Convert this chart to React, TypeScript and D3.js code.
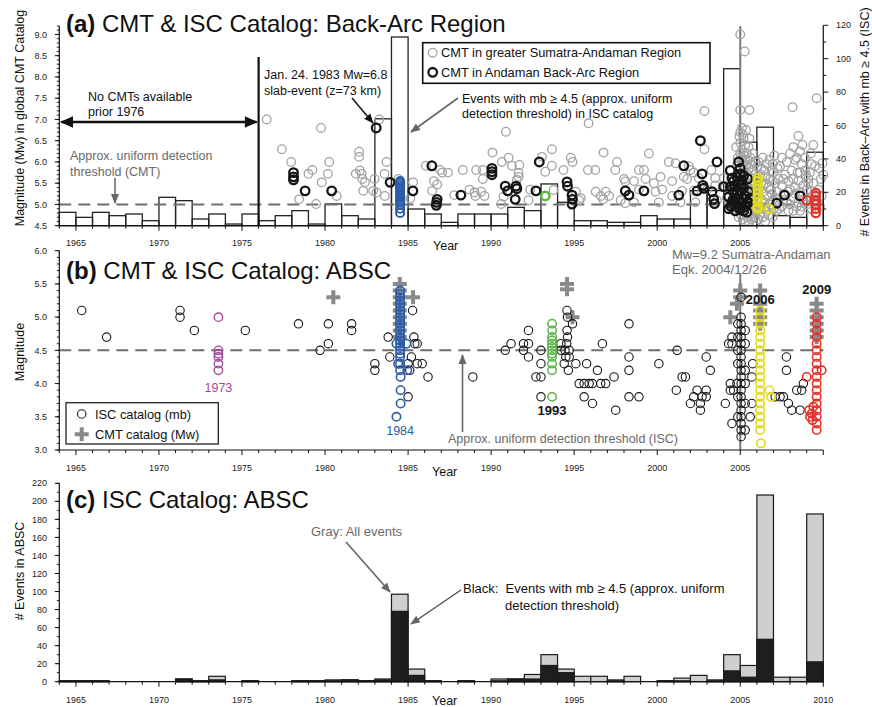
import React from 'react';
import * as d3 from 'd3';

// ---------- data ----------
// yearly bins, 1964 .. 2009
const BIN_YEARS = d3.range(1964, 2010);

// (a) ISC events with mb >= 4.5 in the back-arc, per year (right axis)
const backArcCounts = [8, 5, 8, 6, 7, 3, 17, 15, 4, 7, 1, 7, 3, 6, 9, 1, 13, 6, 4, 64, 113, 10, 7, 2, 7, 7, 7, 11, 9, 25, 14, 3, 3, 2, 2, 6, 4, 4, 21, 21, 94, 50, 59, 6, 5, 44];

// (c) ISC events in ABSC: all events and events with mb >= 4.5
const absAllCounts = [1, 1, 1, 0, 0, 0, 0, 3, 1, 6, 0, 1, 0, 0, 1, 1, 2, 2, 1, 3, 97, 14, 1, 0, 1, 0, 3, 3, 8, 30, 14, 6, 6, 2, 6, 0, 1, 4, 7, 2, 30, 18, 207, 5, 5, 186];
const absMb45Counts = [1, 1, 1, 0, 0, 0, 0, 3, 1, 2, 0, 1, 0, 0, 1, 1, 1, 2, 1, 2, 78, 7, 1, 0, 1, 0, 1, 3, 3, 18, 10, 0, 0, 1, 0, 0, 1, 1, 0, 1, 12, 5, 47, 0, 0, 22];

type Pt = [number, number];
const col = (year: number, mags: number[]): Pt[] => mags.map((m) => [year, m] as Pt);

// (a) CMT events in the greater Sumatra-Andaman region [year, Mw]
const cmtGreater: Pt[] = [
  [1976.49, 7.0], [1977.4, 6.3], [1977.96, 6.0], [1978.44, 5.12], [1979.76, 6.8], [1979.24, 5.81], [1979.0, 5.72],
  [1980.25, 6.0], [1980.17, 5.72], [1979.8, 5.52], [1979.46, 5.01], [1980.7, 5.2],
  [1982.05, 6.24], [1982.05, 6.12], [1982.1, 5.8], [1981.85, 5.72], [1982.2, 5.72], [1982.25, 5.6], [1982.4, 5.52],
  [1982.98, 5.6], [1983.58, 5.72], [1983.7, 6.0], [1982.3, 5.32], [1982.9, 5.32], [1983.1, 5.28], [1983.6, 5.2],
  [1983.26, 7.0], [1984.42, 5.6], [1985.3, 5.52], [1985.13, 5.14], [1986.07, 5.91], [1986.93, 5.81], [1986.55, 5.55],
  [1986.75, 5.47], [1986.45, 5.32],
  [1987.05, 5.75], [1987.4, 5.75], [1987.78, 5.22], [1988.3, 5.81], [1989.1, 5.81], [1989.5, 5.81], [1989.5, 5.6],
  [1988.7, 5.35], [1989.0, 5.28], [1989.4, 5.3], [1989.05, 5.2], [1989.6, 5.2], [1990.08, 6.22], [1990.65, 6.0],
  [1991.05, 6.1], [1991.25, 5.91], [1991.7, 5.93], [1991.65, 5.74], [1991.65, 5.65], [1991.55, 5.58], [1990.89, 6.71],
  [1990.6, 5.01], [1990.75, 5.18], [1992.25, 5.1], [1992.35, 5.35], [1993.06, 6.12], [1993.66, 6.3], [1993.66, 5.91],
  [1993.26, 5.77], [1994.36, 5.81], [1994.8, 6.1], [1994.9, 6.0], [1993.76, 5.34], [1995.1, 5.3], [1995.4, 5.15],
  [1995.3, 5.1], [1995.87, 6.91], [1996.77, 6.22], [1995.83, 5.81], [1996.27, 5.81], [1997.58, 6.0], [1997.48, 5.81],
  [1996.3, 5.3], [1996.6, 5.2], [1996.9, 5.3], [1997.1, 5.2], [1996.75, 5.12], [1998.08, 5.54], [1997.8, 5.1], [1998.08, 5.03],
  [1998.9, 5.81], [1999.2, 5.81], [1999.5, 6.2], [2000.7, 6.0], [2001.1, 5.97], [2002.0, 5.81], [2003.26, 5.81],
  [1998.0, 5.6], [1998.6, 5.55], [1999.3, 5.6], [1999.8, 5.5], [2000.2, 5.65], [2000.9, 5.55], [2001.6, 5.65],
  [2001.8, 5.6], [2002.5, 5.62], [2003.5, 5.62], [2004.0, 5.62], [1998.9, 5.35], [1999.9, 5.3], [2000.3, 5.35],
  [2000.9, 5.2], [2001.5, 5.32], [2002.2, 5.33], [2003.0, 5.35], [2003.5, 5.45], [1998.6, 5.05], [2000.1, 5.05],
  [2001.4, 5.05], [2002.3, 5.05], [2003.6, 5.1], [2004.2, 5.15], [2002.84, 7.2], [2002.84, 6.3], [2001.9, 5.9], [2002.2, 5.75],
  [2004.1, 5.4], [2004.5, 5.3], [2004.3, 5.0], [2004.6, 5.6], [2004.8, 5.9], [2004.7, 4.9],
  [2005.0, 9.0], [2005.27, 8.6], [2005.0, 7.22], [2005.55, 7.22],
  [2005.1, 6.8], [2005.0, 6.7], [2004.95, 6.6], [2005.2, 6.55], [2005.0, 6.45], [2005.3, 6.4], [2005.1, 6.3], [2005.5, 6.35],
  [2005.0, 6.2], [2005.25, 6.15], [2005.4, 6.2], [2005.05, 6.05], [2005.6, 6.1], [2005.15, 5.95], [2005.35, 5.9],
  [2005.0, 5.85], [2005.5, 5.85], [2005.2, 5.75], [2005.7, 5.8], [2005.05, 5.65], [2005.4, 5.65], [2005.9, 5.7],
  [2005.25, 5.55], [2005.6, 5.5], [2005.1, 5.45], [2005.45, 5.4], [2005.8, 5.45], [2005.3, 5.3], [2005.7, 5.3],
  [2005.0, 5.25], [2005.5, 5.2], [2005.9, 5.2], [2005.2, 5.1], [2005.65, 5.05], [2005.0, 5.0], [2005.4, 4.95],
  [2005.8, 4.95], [2005.25, 4.85], [2005.6, 4.8], [2005.05, 4.75], [2005.45, 4.7], [2005.85, 4.7],
  [2004.7, 5.2], [2004.9, 5.55], [2004.85, 6.1], [2004.75, 6.35], [2005.15, 6.65], [2005.35, 6.75], [2005.55, 6.55],
  [2005.45, 6.05], [2005.75, 6.2], [2005.9, 6.0], [2005.65, 5.95], [2005.85, 5.55], [2005.95, 5.4], [2005.75, 5.1],
  [2005.95, 4.85], [2005.15, 4.65], [2005.5, 4.6], [2005.7, 4.65], [2005.35, 5.75], [2005.55, 5.65], [2005.1, 6.1],
  [2005.3, 6.05], [2004.9, 4.7], [2005.3, 4.6], [2005.95, 4.6], [2005.6, 4.9], [2005.75, 4.85], [2005.15, 5.25],
  [2005.35, 5.45], [2005.85, 5.3],
  [2006.1, 6.0], [2006.3, 5.85], [2006.6, 5.95], [2006.9, 5.8], [2006.2, 5.7], [2006.5, 5.65], [2006.8, 5.6],
  [2007.0, 5.75], [2006.4, 5.45], [2006.7, 5.4], [2006.1, 5.35], [2007.1, 5.5], [2006.6, 5.2], [2006.9, 5.25],
  [2006.3, 5.1], [2007.2, 5.3], [2006.8, 5.0], [2006.5, 4.95], [2007.0, 4.9], [2006.2, 4.8], [2006.7, 4.75], [2007.3, 5.05],
  [2006.05, 5.9], [2006.35, 6.1], [2006.75, 6.05], [2006.45, 5.8], [2006.95, 5.95], [2006.25, 5.5], [2006.55, 5.5],
  [2006.95, 5.55], [2006.35, 5.3], [2006.85, 5.35], [2007.15, 5.15], [2006.45, 5.05], [2006.95, 5.1], [2006.6, 4.85],
  [2006.35, 4.7], [2006.95, 4.7], [2007.2, 4.85], [2006.1, 4.65], [2006.5, 4.6], [2007.3, 5.6], [2007.25, 5.85], [2007.05, 6.15],
  [2007.4, 5.9], [2007.7, 5.7], [2007.5, 5.45], [2007.9, 5.55], [2007.6, 5.25], [2008.0, 5.35], [2007.8, 5.05],
  [2008.2, 5.15], [2007.5, 4.95], [2008.4, 4.95], [2008.1, 5.8], [2008.3, 6.05], [2008.15, 7.29], [2008.5, 6.61],
  [2008.6, 6.25], [2008.4, 6.1], [2008.7, 5.95], [2008.9, 6.1], [2008.6, 5.75], [2008.9, 5.8], [2008.5, 5.55],
  [2008.8, 5.45], [2009.1, 5.6], [2008.6, 5.3], [2009.0, 5.35], [2008.8, 5.1], [2009.2, 5.15], [2008.7, 4.95],
  [2009.1, 4.9], [2009.3, 5.95], [2009.2, 5.75], [2009.4, 5.5],
  [2007.5, 6.1], [2007.8, 6.0], [2008.0, 6.2], [2007.6, 5.6], [2008.2, 5.6], [2008.3, 5.4], [2008.0, 5.0],
  [2008.5, 5.05], [2008.3, 5.25], [2007.9, 4.85], [2008.2, 4.85], [2008.6, 4.85], [2009.0, 5.0], [2009.3, 5.3],
  [2009.1, 5.5], [2008.95, 5.7], [2009.25, 6.2], [2009.4, 6.4], [2008.75, 6.4], [2008.2, 6.35], [2009.45, 5.1],
  [2009.3, 4.9], [2008.45, 5.75], [2007.6, 5.1], [2007.35, 4.9], [2007.9, 5.3],
  [2009.6, 7.5], [2009.5, 5.9], [2009.75, 5.85], [2009.85, 5.6], [2009.7, 5.35], [2009.9, 5.2], [2009.6, 5.05],
  [2009.8, 4.95], [2010.0, 5.7], [2009.95, 5.97],
];

// (a) CMT events in the Andaman back-arc [year, Mw]
const cmtBackArc: Pt[] = [
  [1978.1, 5.75], [1978.1, 5.65], [1978.1, 5.58], [1978.8, 5.32], [1980.4, 5.32], [1983.08, 6.8], [1983.92, 5.52],
  [1985.29, 5.32], [1986.43, 5.91], [1986.75, 5.12], [1986.72, 5.05], [1986.7, 4.98], [1988.18, 5.22],
  [1990.05, 5.85], [1990.05, 5.77], [1990.05, 5.7], [1990.85, 5.43], [1991.0, 5.32], [1991.5, 5.43], [1991.55, 5.37],
  [1991.45, 5.12], [1992.9, 6.0], [1992.7, 5.32], [1994.57, 5.53], [1994.6, 5.43], [1994.87, 5.22], [1994.9, 5.12],
  [1994.87, 5.01], [1998.08, 5.32], [1998.3, 5.22], [1999.2, 5.32], [2001.3, 5.22], [2001.6, 5.91], [2002.6, 6.5],
  [2002.7, 5.72], [2002.75, 5.45], [2002.8, 5.38], [2002.4, 5.32], [2003.3, 5.3], [2003.4, 5.12], [2003.45, 5.02],
  [2003.6, 6.0], [2004.0, 5.42],
  [2004.9, 6.0], [2004.4, 5.8], [2004.5, 5.62], [2004.4, 5.42], [2004.6, 5.3], [2004.3, 5.18], [2004.5, 5.02],
  [2004.3, 4.9], [2004.7, 4.85], [2005.0, 5.85], [2005.0, 5.72], [2005.1, 5.57], [2004.9, 5.47], [2005.2, 5.4],
  [2005.0, 5.3], [2005.3, 5.2], [2004.9, 5.13], [2005.1, 5.05], [2005.3, 4.95], [2004.95, 4.9], [2005.2, 4.85],
  [2005.4, 4.82], [2004.8, 5.65], [2004.8, 5.25], [2004.75, 5.0], [2005.45, 5.6], [2005.5, 5.3], [2005.5, 5.05],
  [2005.2, 5.68], [2004.65, 5.45], [2004.7, 5.15], [2005.6, 5.15],
  [2005.05, 5.45], [2004.6, 5.55], [2004.55, 5.1], [2004.85, 4.95], [2005.15, 5.15], [2005.4, 5.05], [2004.45, 4.95], [2005.0, 4.88],
  [2007.2, 5.03], [2007.67, 5.22], [2008.6, 5.2],
];

// (a) highlighted back-arc swarms
const aSwarm1984 = col(1984.52, [5.55, 5.5, 5.45, 5.4, 5.35, 5.3, 5.25, 5.2, 5.15, 5.1, 5.05, 5.0, 4.9, 4.8]);
const aSwarm1993 = col(1993.26, [5.2]);
const aSwarm2006 = [...col(2006.05, [5.62, 5.55, 5.45, 5.35, 5.25, 5.15, 5.05, 4.95, 4.9]), [2006.75, 4.9] as Pt];
const aSwarm2009 = [...col(2009.55, [5.27, 5.2, 5.1, 5.0, 4.9, 4.8]), [2009.0, 5.1] as Pt];

// (b) ISC catalog events in ABSC [year, mb]
const iscABSC: Pt[] = [
  [1965.35, 5.1], [1966.85, 4.7], [1971.27, 5.1], [1971.27, 5.0], [1972.13, 4.8], [1975.2, 4.8], [1978.4, 4.9],
  [1979.7, 4.5], [1980.2, 4.9], [1980.2, 4.6], [1981.6, 4.9], [1981.6, 4.8], [1983.0, 4.3], [1983.0, 4.2],
  [1983.8, 4.7], [1983.9, 4.4],
  [1985.27, 5.1], [1985.35, 4.7], [1985.4, 4.6], [1985.55, 4.6], [1985.2, 4.4], [1985.0, 4.3], [1985.55, 4.3],
  [1985.85, 4.3], [1985.1, 4.2], [1986.2, 4.1], [1985.0, 3.8],
  [1988.9, 4.1], [1990.85, 4.5], [1991.2, 4.6], [1991.95, 4.6], [1991.95, 4.5], [1992.25, 4.8], [1992.25, 4.6],
  [1992.25, 4.4], [1993.0, 4.5], [1993.0, 4.3], [1992.7, 4.1], [1993.0, 4.1], [1993.0, 3.8],
  [1994.57, 5.1], [1994.6, 5.0], [1994.9, 4.9], [1994.57, 4.8], [1994.6, 4.7], [1994.2, 4.6], [1994.2, 4.5],
  [1994.55, 4.6], [1994.7, 4.5], [1994.45, 4.5], [1994.5, 4.4], [1994.7, 4.4], [1994.4, 4.3], [1995.1, 4.3], [1994.65, 4.2],
  [1995.3, 4.0], [1995.6, 4.0], [1995.9, 4.0], [1996.1, 4.0], [1995.75, 4.3], [1995.6, 3.8], [1996.1, 3.7],
  [1996.4, 4.2], [1996.6, 4.0], [1996.9, 4.0], [1996.7, 4.6], [1997.4, 4.1], [1997.5, 3.6], [1998.3, 4.9],
  [1998.3, 4.4], [1998.3, 4.2], [1998.3, 3.8], [1998.9, 3.8], [2000.1, 4.3], [2001.15, 3.9], [2001.2, 4.5],
  [2001.5, 4.1], [2001.7, 4.1], [2002.0, 3.7], [2002.2, 3.8], [2002.4, 3.9], [2002.6, 3.7], [2002.6, 3.6],
  [2002.7, 3.8], [2002.95, 3.9], [2002.95, 3.8], [2002.95, 4.4], [2003.2, 4.2],
  [2004.1, 3.7], [2004.3, 4.6], [2004.5, 4.6], [2004.5, 4.7], [2004.4, 4.0], [2004.4, 3.9], [2004.6, 3.9],
  [2004.8, 4.0], [2004.5, 3.4],
  ...col(2005.05, [5.3, 5.0, 4.9, 4.8, 4.7, 4.6, 4.5, 4.4, 4.3, 4.2, 4.1, 4.0, 3.9, 3.8, 3.7, 3.6, 3.5, 3.4, 3.3, 3.2]),
  [2004.85, 4.9], [2004.85, 4.7], [2004.85, 4.5], [2004.85, 4.3], [2004.85, 3.8], [2004.85, 3.5],
  [2005.3, 4.8], [2005.3, 4.6], [2005.3, 4.2], [2005.3, 4.0], [2005.3, 3.7], [2005.3, 3.3],
  [2005.75, 4.3], [2005.7, 4.1], [2005.7, 3.7], [2005.6, 3.5],
  [2007.1, 3.8], [2007.4, 3.8], [2007.6, 3.8], [2007.78, 4.4], [2007.78, 4.2], [2007.9, 3.7], [2008.1, 3.6],
  [2008.6, 3.6], [2008.4, 3.9], [2008.7, 3.9], [2008.8, 4.0],
];

// (b) highlighted swarms
const bSwarm1973 = col(1973.58, [5.0, 4.5, 4.45, 4.4, 4.3, 4.2]);
const bSwarm1984: Pt[] = [
  ...col(1984.52, [5.4, 5.35, 5.3, 5.25, 5.2, 5.15, 5.1, 5.05, 5.0, 4.95, 4.9, 4.85, 4.8, 4.75, 4.7, 4.65, 4.6, 4.55, 4.5, 4.45, 4.4, 4.3, 4.2]),
  [1984.55, 4.1], [1984.55, 3.9], [1984.55, 3.7], [1984.3, 3.5], [1984.3, 4.6], [1984.9, 4.6], [1984.4, 4.3], [1984.95, 4.2],
];
const bSwarm1993 = col(1993.67, [4.9, 4.8, 4.7, 4.65, 4.6, 4.55, 4.5, 4.45, 4.4, 4.3, 4.2, 3.8]);
const bSwarm2006: Pt[] = [
  ...col(2006.2, [5.1, 5.0, 4.9, 4.8, 4.7, 4.6, 4.5, 4.4, 4.3, 4.2, 4.1, 4.0, 3.9, 3.8, 3.7, 3.6, 3.5, 3.4, 3.3]),
  [2006.25, 3.1], [2006.75, 3.9], [2006.85, 3.8],
];
const bSwarm2009: Pt[] = [
  ...col(2009.6, [5.0, 4.9, 4.8, 4.7, 4.6, 4.5, 4.4, 4.3, 4.2, 4.1, 4.0, 3.9, 3.8, 3.7, 3.6, 3.5, 3.4, 3.3]),
  [2009.0, 4.1], [2009.9, 4.2], [2009.15, 3.6], [2009.3, 3.55], [2009.2, 3.5], [2009.4, 3.65], [2009.35, 3.45],
];

// (b) CMT catalog events in ABSC [year, Mw]
const cmtABSC: Pt[] = [
  [1980.5, 5.3], ...col(1984.5, [5.5, 5.4, 5.3, 5.2, 5.1, 5.0, 4.9, 4.8, 4.7]), [1985.3, 5.3],
  [1994.57, 5.5], [1994.57, 5.42], [1994.9, 5.0], [2004.4, 5.0], [2004.8, 5.2], [2005.0, 5.4], [2005.0, 5.3],
  ...col(2006.2, [5.4, 5.2, 5.1, 5.0, 4.9]), ...col(2009.6, [5.2, 5.1, 5.0, 4.9, 4.8, 4.7]),
];

// axis tick values
const yearTicks = d3.range(1964, 2011);
const yearLabelsTop = [1965, 1970, 1975, 1980, 1985, 1990, 1995, 2000, 2005];
const yearLabelsAll = [...yearLabelsTop, 2010];
const magTicksA = [4.5, 5.0, 5.5, 6.0, 6.5, 7.0, 7.5, 8.0, 8.5, 9.0];
const magTicksB = [3.0, 3.5, 4.0, 4.5, 5.0, 5.5, 6.0];
const countTicksR = [0, 20, 40, 60, 80, 100, 120];
const countTicksC = [0, 20, 40, 60, 80, 100, 120, 140, 160, 180, 200, 220];

// ---------- styling ----------
const FONT = "'Liberation Sans', Arial, Helvetica, sans-serif";
const C = {
  grayPt: '#a3a3a3',
  black: '#151515',
  purple: '#a24a9c',
  blue: '#2c5ca8',
  green: '#5cb647',
  yellow: '#e2da1e',
  red: '#e3322b',
  plus: '#8a8a8a',
  dash: '#6f6f6f',
  note: '#6a6a6a',
  barGray: '#cfcfcf',
};

const x = d3.scaleLinear().domain([1964, 2010]).range([59.3, 823.3]);
const yA = d3.scaleLinear().domain([4.5, 9.2]).range([225.7, 25.95]);
const yAR = d3.scaleLinear().domain([0, 120]).range([225.7, 25.3]);
const yB = d3.scaleLinear().domain([3, 6]).range([450, 250.7]);
const yC = d3.scaleLinear().domain([0, 220]).range([681.7, 483.3]);

const tickFont = { fontFamily: FONT, fontSize: 9, fill: '#222' } as const;

function XAxis({ y0, labels, labelY }: { y0: number; labels: number[]; labelY: number }) {
  return (
    <g>
      <line x1={x(1964)} x2={x(2010)} y1={y0} y2={y0} stroke="#111" strokeWidth={1.2} />
      {yearTicks.map((t) => (
        <line key={t} x1={x(t)} x2={x(t)} y1={y0} y2={y0 + (t % 5 === 0 ? 5 : 3)} stroke="#111" strokeWidth={1} />
      ))}
      {labels.map((t) => (
        <text key={t} x={x(t)} y={labelY} textAnchor="middle" {...tickFont}>{t}</text>
      ))}
    </g>
  );
}

function YAxisLeft({ scale, major, minorStep, fmt, top }: { scale: d3.ScaleLinear<number, number>; major: number[]; minorStep: number; fmt: (v: number) => string; top: number }) {
  const [d0, d1] = scale.domain();
  const minors = d3.range(d0, d1 + 1e-9, minorStep);
  const x0 = x(1964);
  return (
    <g>
      <line x1={x0} x2={x0} y1={top} y2={scale(d0)} stroke="#111" strokeWidth={1.2} />
      {minors.map((t, i) => (
        <line key={'m' + i} x1={x0 - 2.5} x2={x0} y1={scale(t)} y2={scale(t)} stroke="#111" strokeWidth={0.9} />
      ))}
      {major.map((t) => (
        <g key={t}>
          <line x1={x0 - 4.5} x2={x0} y1={scale(t)} y2={scale(t)} stroke="#111" strokeWidth={1} />
          <text x={47} y={scale(t)} dy="0.35em" textAnchor="end" {...tickFont}>{fmt(t)}</text>
        </g>
      ))}
    </g>
  );
}

function Rings({ pts, sx, sy, color, r, sw }: { pts: Pt[]; sx: (v: number) => number; sy: (v: number) => number; color: string; r: number; sw: number }) {
  return (
    <g fill="none" stroke={color} strokeWidth={sw}>
      {pts.map((p, i) => (
        <circle key={i} cx={sx(p[0])} cy={sy(p[1])} r={r} />
      ))}
    </g>
  );
}

function Plus({ cx, cy }: { cx: number; cy: number }) {
  return <path d={`M${cx - 7},${cy}H${cx + 7}M${cx},${cy - 7}V${cy + 7}`} stroke={C.plus} strokeWidth={4} fill="none" />;
}

export default function App() {
  const bw = x(1965) - x(1964);
  const f1 = d3.format('.1f');
  const text = (size: number, fill = '#111') => ({ fontFamily: FONT, fontSize: size, fill });

  return (
    <svg width={872} height={707} viewBox="0 0 872 707" style={{ position: 'absolute', left: 0, top: 0, background: '#fff' }}>
      <defs>
        <marker id="headBlack" viewBox="0 0 10 10" refX="9" refY="5" markerWidth="10" markerHeight="10" markerUnits="userSpaceOnUse" orient="auto-start-reverse">
          <path d="M0,1 L10,5 L0,9 Z" fill="#111" />
        </marker>
        <marker id="headBig" viewBox="0 0 10 10" refX="9" refY="5" markerWidth="14" markerHeight="13" markerUnits="userSpaceOnUse" orient="auto-start-reverse">
          <path d="M0,0.5 L10,5 L0,9.5 Z" fill="#111" />
        </marker>
        <marker id="headGray" viewBox="0 0 10 10" refX="9" refY="5" markerWidth="10" markerHeight="10" markerUnits="userSpaceOnUse" orient="auto-start-reverse">
          <path d="M0,1 L10,5 L0,9 Z" fill="#666" />
        </marker>
      </defs>
      <rect width={872} height={707} fill="#fff" />

      {/* ================= (a) ================= */}
      <g>
        {/* histogram of ISC mb>=4.5 counts */}
        <g fill="none" stroke="#222" strokeWidth={1.3}>
          {BIN_YEARS.map((yr, i) => (
            <rect key={yr} x={x(yr)} y={yAR(backArcCounts[i])} width={bw} height={yAR(0) - yAR(backArcCounts[i])} />
          ))}
        </g>
        {/* detection threshold */}
        <line x1={x(1964)} x2={x(2010)} y1={yA(5.0)} y2={yA(5.0)} stroke={C.dash} strokeWidth={2} strokeDasharray="12 7" />
        {/* 2004 Sumatra-Andaman mainshock marker */}
        <line x1={x(2005)} x2={x(2005)} y1={26} y2={yA(4.5)} stroke="#777" strokeWidth={2} />
        {/* start of CMT catalog */}
        <line x1={x(1976)} x2={x(1976)} y1={57} y2={yA(4.5)} stroke="#111" strokeWidth={2.2} />

        <Rings pts={cmtGreater} sx={x} sy={yA} color={C.grayPt} r={4.3} sw={1.3} />
        <Rings pts={cmtBackArc} sx={x} sy={yA} color={C.black} r={4.3} sw={2.3} />
        <Rings pts={aSwarm1984} sx={x} sy={yA} color={C.blue} r={4.1} sw={2} />
        <Rings pts={aSwarm1993} sx={x} sy={yA} color={C.green} r={4.2} sw={2.6} />
        <Rings pts={aSwarm2006} sx={x} sy={yA} color={C.yellow} r={4.2} sw={2.2} />
        <Rings pts={aSwarm2009} sx={x} sy={yA} color={C.red} r={4.2} sw={2.2} />

        <XAxis y0={yA(4.5)} labels={yearLabelsTop} labelY={246} />
        <text x={433} y={249.5} {...text(12.5)}>Year</text>
        <YAxisLeft scale={yA} major={magTicksA} minorStep={0.1} fmt={f1} top={yA(9.2)} />
        {/* right axis: counts */}
        <line x1={x(2010)} x2={x(2010)} y1={yAR(120)} y2={yAR(0)} stroke="#111" strokeWidth={1.2} />
        {d3.range(0, 121, 10).map((t) => (
          <line key={t} x1={x(2010)} x2={x(2010) + (t % 20 === 0 ? 5 : 3)} y1={yAR(t)} y2={yAR(t)} stroke="#111" strokeWidth={1} />
        ))}
        {countTicksR.map((t) => (
          <text key={t} x={836} y={yAR(t)} dy="0.35em" {...tickFont}>{t}</text>
        ))}
        <text transform="translate(24,118) rotate(-90)" textAnchor="middle" {...text(12.5)}>Magnitude (Mw) in global CMT Catalog</text>
        <text transform="translate(869,122) rotate(-90)" textAnchor="middle" {...text(12.5)}>{'# Events in Back\u2013Arc with mb \u2265 4.5 (ISC)'}</text>

        <text x={66} y={31.5} {...text(24)}><tspan fontWeight="bold">(a)</tspan> CMT &amp; ISC Catalog: Back-Arc Region</text>

        {/* annotations */}
        <line x1={x(1964) + 2} x2={x(1976) - 2} y1={122} y2={122} stroke="#111" strokeWidth={2.5} markerStart="url(#headBig)" markerEnd="url(#headBig)" />
        <text x={88} y={101} {...text(12.5)}>No CMTs available</text>
        <text x={88} y={116} {...text(12.5)}>prior 1976</text>
        <text x={70} y={160} {...text(12.5, C.note)}>Approx. uniform detection</text>
        <text x={70} y={176} {...text(12.5, C.note)}>threshold (CMT)</text>
        <line x1={115} x2={115} y1={178} y2={203} stroke="#666" strokeWidth={1.5} markerEnd="url(#headGray)" />

        <text x={264} y={79} {...text(12.5)}>Jan. 24. 1983 Mw=6.8</text>
        <text x={264} y={95} {...text(12.5)}>slab-event (z=73 km)</text>
        <line x1={352} y1={98} x2={373} y2={123} stroke="#111" strokeWidth={1.5} markerEnd="url(#headBlack)" />

        <text x={462} y={103} {...text(12.5)}>{'Events with mb \u2265 4.5 (approx. uniform'}</text>
        <text x={462} y={118} {...text(12.5)}>detection threshold) in ISC catalog</text>
        <line x1={458} y1={98} x2={411} y2={132} stroke="#666" strokeWidth={1.6} markerEnd="url(#headGray)" />

        {/* legend */}
        <rect x={422.7} y={42.7} width={287.3} height={40.6} fill="#fff" stroke="#111" strokeWidth={1.6} />
        <circle cx={432.7} cy={52.7} r={4.3} fill="none" stroke={C.grayPt} strokeWidth={1.3} />
        <text x={441} y={57.3} {...text(12.8)}>CMT in greater Sumatra-Andaman Region</text>
        <circle cx={432.7} cy={72.3} r={4.3} fill="none" stroke={C.black} strokeWidth={2.3} />
        <text x={441} y={76.8} {...text(12.8)}>CMT in Andaman Back-Arc Region</text>
      </g>

      {/* ================= (b) ================= */}
      <g>
        <line x1={x(1964)} x2={x(2010)} y1={yB(4.5)} y2={yB(4.5)} stroke={C.dash} strokeWidth={2} strokeDasharray="12 7" />
        <line x1={x(2005)} x2={x(2005)} y1={274} y2={yB(3)} stroke="#777" strokeWidth={2} />
        {cmtABSC.map((p, i) => (
          <Plus key={i} cx={x(p[0])} cy={yB(p[1])} />
        ))}
        <Rings pts={iscABSC} sx={x} sy={yB} color={C.black} r={4.2} sw={1.1} />
        <Rings pts={bSwarm1973} sx={x} sy={yB} color={C.purple} r={4.2} sw={1.4} />
        <Rings pts={bSwarm1984} sx={x} sy={yB} color={C.blue} r={4.2} sw={1.6} />
        <Rings pts={bSwarm1993} sx={x} sy={yB} color={C.green} r={4.2} sw={1.5} />
        <Rings pts={bSwarm2006} sx={x} sy={yB} color={C.yellow} r={4.2} sw={1.6} />
        <Rings pts={bSwarm2009} sx={x} sy={yB} color={C.red} r={4.2} sw={1.6} />

        <XAxis y0={yB(3)} labels={yearLabelsTop} labelY={470.5} />
        <text x={432} y={476} {...text(12.5)}>Year</text>
        <YAxisLeft scale={yB} major={magTicksB} minorStep={0.1} fmt={f1} top={yB(6)} />
        <text transform="translate(24,352) rotate(-90)" textAnchor="middle" {...text(12.5)}>Magnitude</text>

        <text x={66} y={279} {...text(24)}><tspan fontWeight="bold">(b)</tspan> CMT &amp; ISC Catalog: ABSC</text>

        <text x={x(1973.58)} y={392} textAnchor="middle" {...text(12.5, C.purple)}>1973</text>
        <text x={x(1984.52)} y={435} textAnchor="middle" {...text(12.5, C.blue)}>1984</text>
        <text x={x(1993.67)} y={414.5} textAnchor="middle" fontWeight="bold" {...text(13)}>1993</text>
        <text x={x(2006.2)} y={303.5} textAnchor="middle" fontWeight="bold" {...text(13)}>2006</text>
        <text x={x(2009.6)} y={293.5} textAnchor="middle" fontWeight="bold" {...text(13)}>2009</text>

        <text x={672} y={259} {...text(13, C.note)}>Mw=9.2 Sumatra-Andaman</text>
        <text x={672} y={273.5} {...text(13, C.note)}>Eqk. 2004/12/26</text>

        <text x={448} y={443} {...text(12.5, C.note)}>Approx. uniform detection threshold (ISC)</text>
        <line x1={462.5} x2={462.5} y1={432} y2={355} stroke="#666" strokeWidth={1.6} markerEnd="url(#headGray)" />

        {/* legend */}
        <rect x={66} y={402.7} width={152.3} height={41.3} fill="#fff" stroke="#222" strokeWidth={1.3} />
        <circle cx={81.7} cy={414} r={4.2} fill="none" stroke={C.black} strokeWidth={1.1} />
        <text x={95} y={418.5} {...text(12.8)}>ISC catalog (mb)</text>
        <Plus cx={81.7} cy={434.3} />
        <text x={95} y={438.8} {...text(12.8)}>CMT catalog (Mw)</text>
      </g>

      {/* ================= (c) ================= */}
      <g>
        <g stroke="#1a1a1a" strokeWidth={1.2}>
          {BIN_YEARS.map((yr, i) =>
            absAllCounts[i] > 0 ? (
              <rect key={'g' + yr} x={x(yr)} y={yC(absAllCounts[i])} width={bw} height={yC(0) - yC(absAllCounts[i])} fill={C.barGray} />
            ) : null
          )}
          {BIN_YEARS.map((yr, i) =>
            absMb45Counts[i] > 0 ? (
              <rect key={'b' + yr} x={x(yr)} y={yC(absMb45Counts[i])} width={bw} height={yC(0) - yC(absMb45Counts[i])} fill="#1e1e1e" />
            ) : null
          )}
        </g>
        <XAxis y0={yC(0)} labels={yearLabelsAll} labelY={702.5} />
        <text x={432} y={705} {...text(12.5)}>Year</text>
        <YAxisLeft scale={yC} major={countTicksC} minorStep={10} fmt={(v) => String(v)} top={yC(220)} />
        <text transform="translate(24,571) rotate(-90)" textAnchor="middle" {...text(12.5)}># Events in ABSC</text>

        <text x={66} y={508} {...text(24)}><tspan fontWeight="bold">(c)</tspan> ISC Catalog: ABSC</text>

        <text x={311} y={536} {...text(13, C.note)}>Gray: All events</text>
        <line x1={346} y1={542} x2={390} y2={592} stroke="#666" strokeWidth={1.6} markerEnd="url(#headGray)" />
        <text x={463} y={593} {...text(13)} style={{ whiteSpace: 'pre' }}>{'Black:  Events with mb \u2265 4.5 (approx. uniform'}</text>
        <text x={505} y={609.5} {...text(13)}>detection threshold)</text>
        <line x1={461} y1={590} x2={411} y2={624} stroke="#555" strokeWidth={1.5} markerEnd="url(#headGray)" />
      </g>
    </svg>
  );
}
